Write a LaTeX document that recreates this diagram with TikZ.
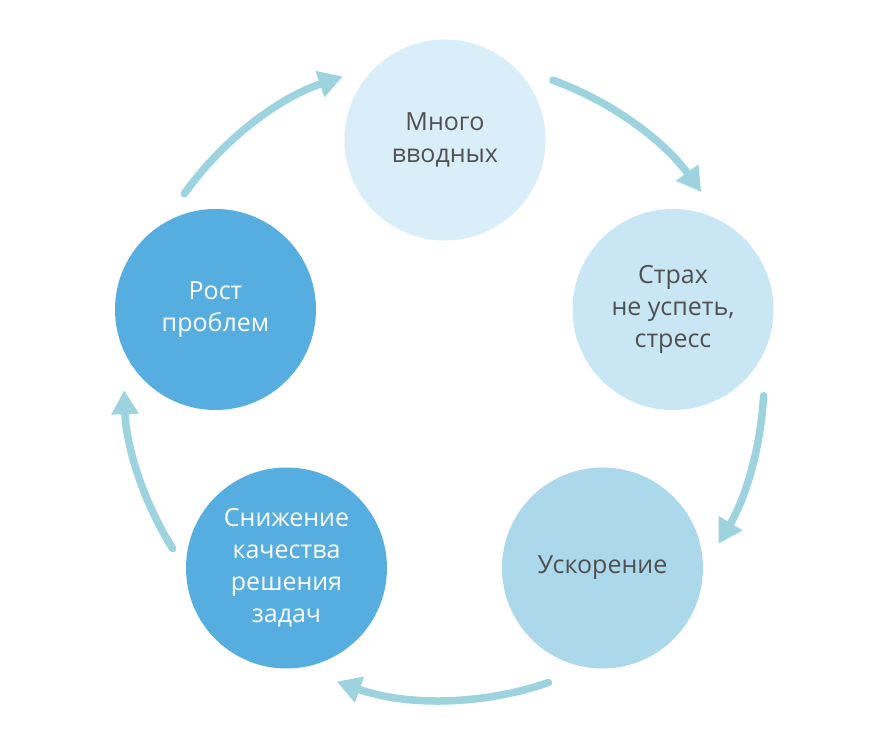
\documentclass[tikz,border=0pt]{standalone}
\usepackage{fontspec}
\setmainfont{Open Sans}
\usetikzlibrary{arrows.meta}
\definecolor{cA}{HTML}{DAEEF9}
\definecolor{cB}{HTML}{C8E6F4}
\definecolor{cC}{HTML}{ABD8EA}
\definecolor{cD}{HTML}{56ADE0}
\definecolor{arrc}{HTML}{9DD3DF}
\definecolor{txt}{HTML}{505050}
\tikzset{
  bubble/.style={circle, minimum size=201bp, inner sep=0pt, align=center,
    font=\fontsize{25bp}{32bp}\selectfont, text=txt},
  darkbubble/.style={bubble, fill=cD, text=white},
  cyc/.style={draw=arrc, line width=7.5bp, line cap=round,
    -{Triangle[length=24bp,width=26bp]}},
}
\begin{document}
\begin{tikzpicture}[x=1bp,y=1bp]
\useasboundingbox (0,0) rectangle (889,741);
\fill[white] (0,0) rectangle (889,741);
\coordinate (O) at (444,362);
\node[bubble, fill=cA] (n1) at (445,601) {Много\\вводных};
\node[bubble, fill=cB] (n2) at (673,431.5) {Страх\\не успеть,\\стресс};
\node[bubble, fill=cC] (n3) at (602.5,173) {Ускорение};
\node[darkbubble] (n4) at (286.5,173) {Снижение\\качества\\решения\\задач};
\node[darkbubble] (n5) at (215.5,431.5) {Рост\\проблем};
\draw[cyc] ([shift={(70:318)}]O) arc[start angle=70, end angle=36, radius=318];
\draw[cyc] ([shift={(-3:320)}]O) arc[start angle=-3, end angle=-31, radius=320];
\draw[cyc] ([shift={(-71:321)}]O) arc[start angle=-71, end angle=-109.5, radius=321];
\draw[cyc] ([shift={(-148:320)}]O) arc[start angle=-148, end angle=-178, radius=320];
\draw[cyc] ([shift={(144.5:319)}]O) arc[start angle=144.5, end angle=108.5, radius=319];
\end{tikzpicture}
\end{document}
